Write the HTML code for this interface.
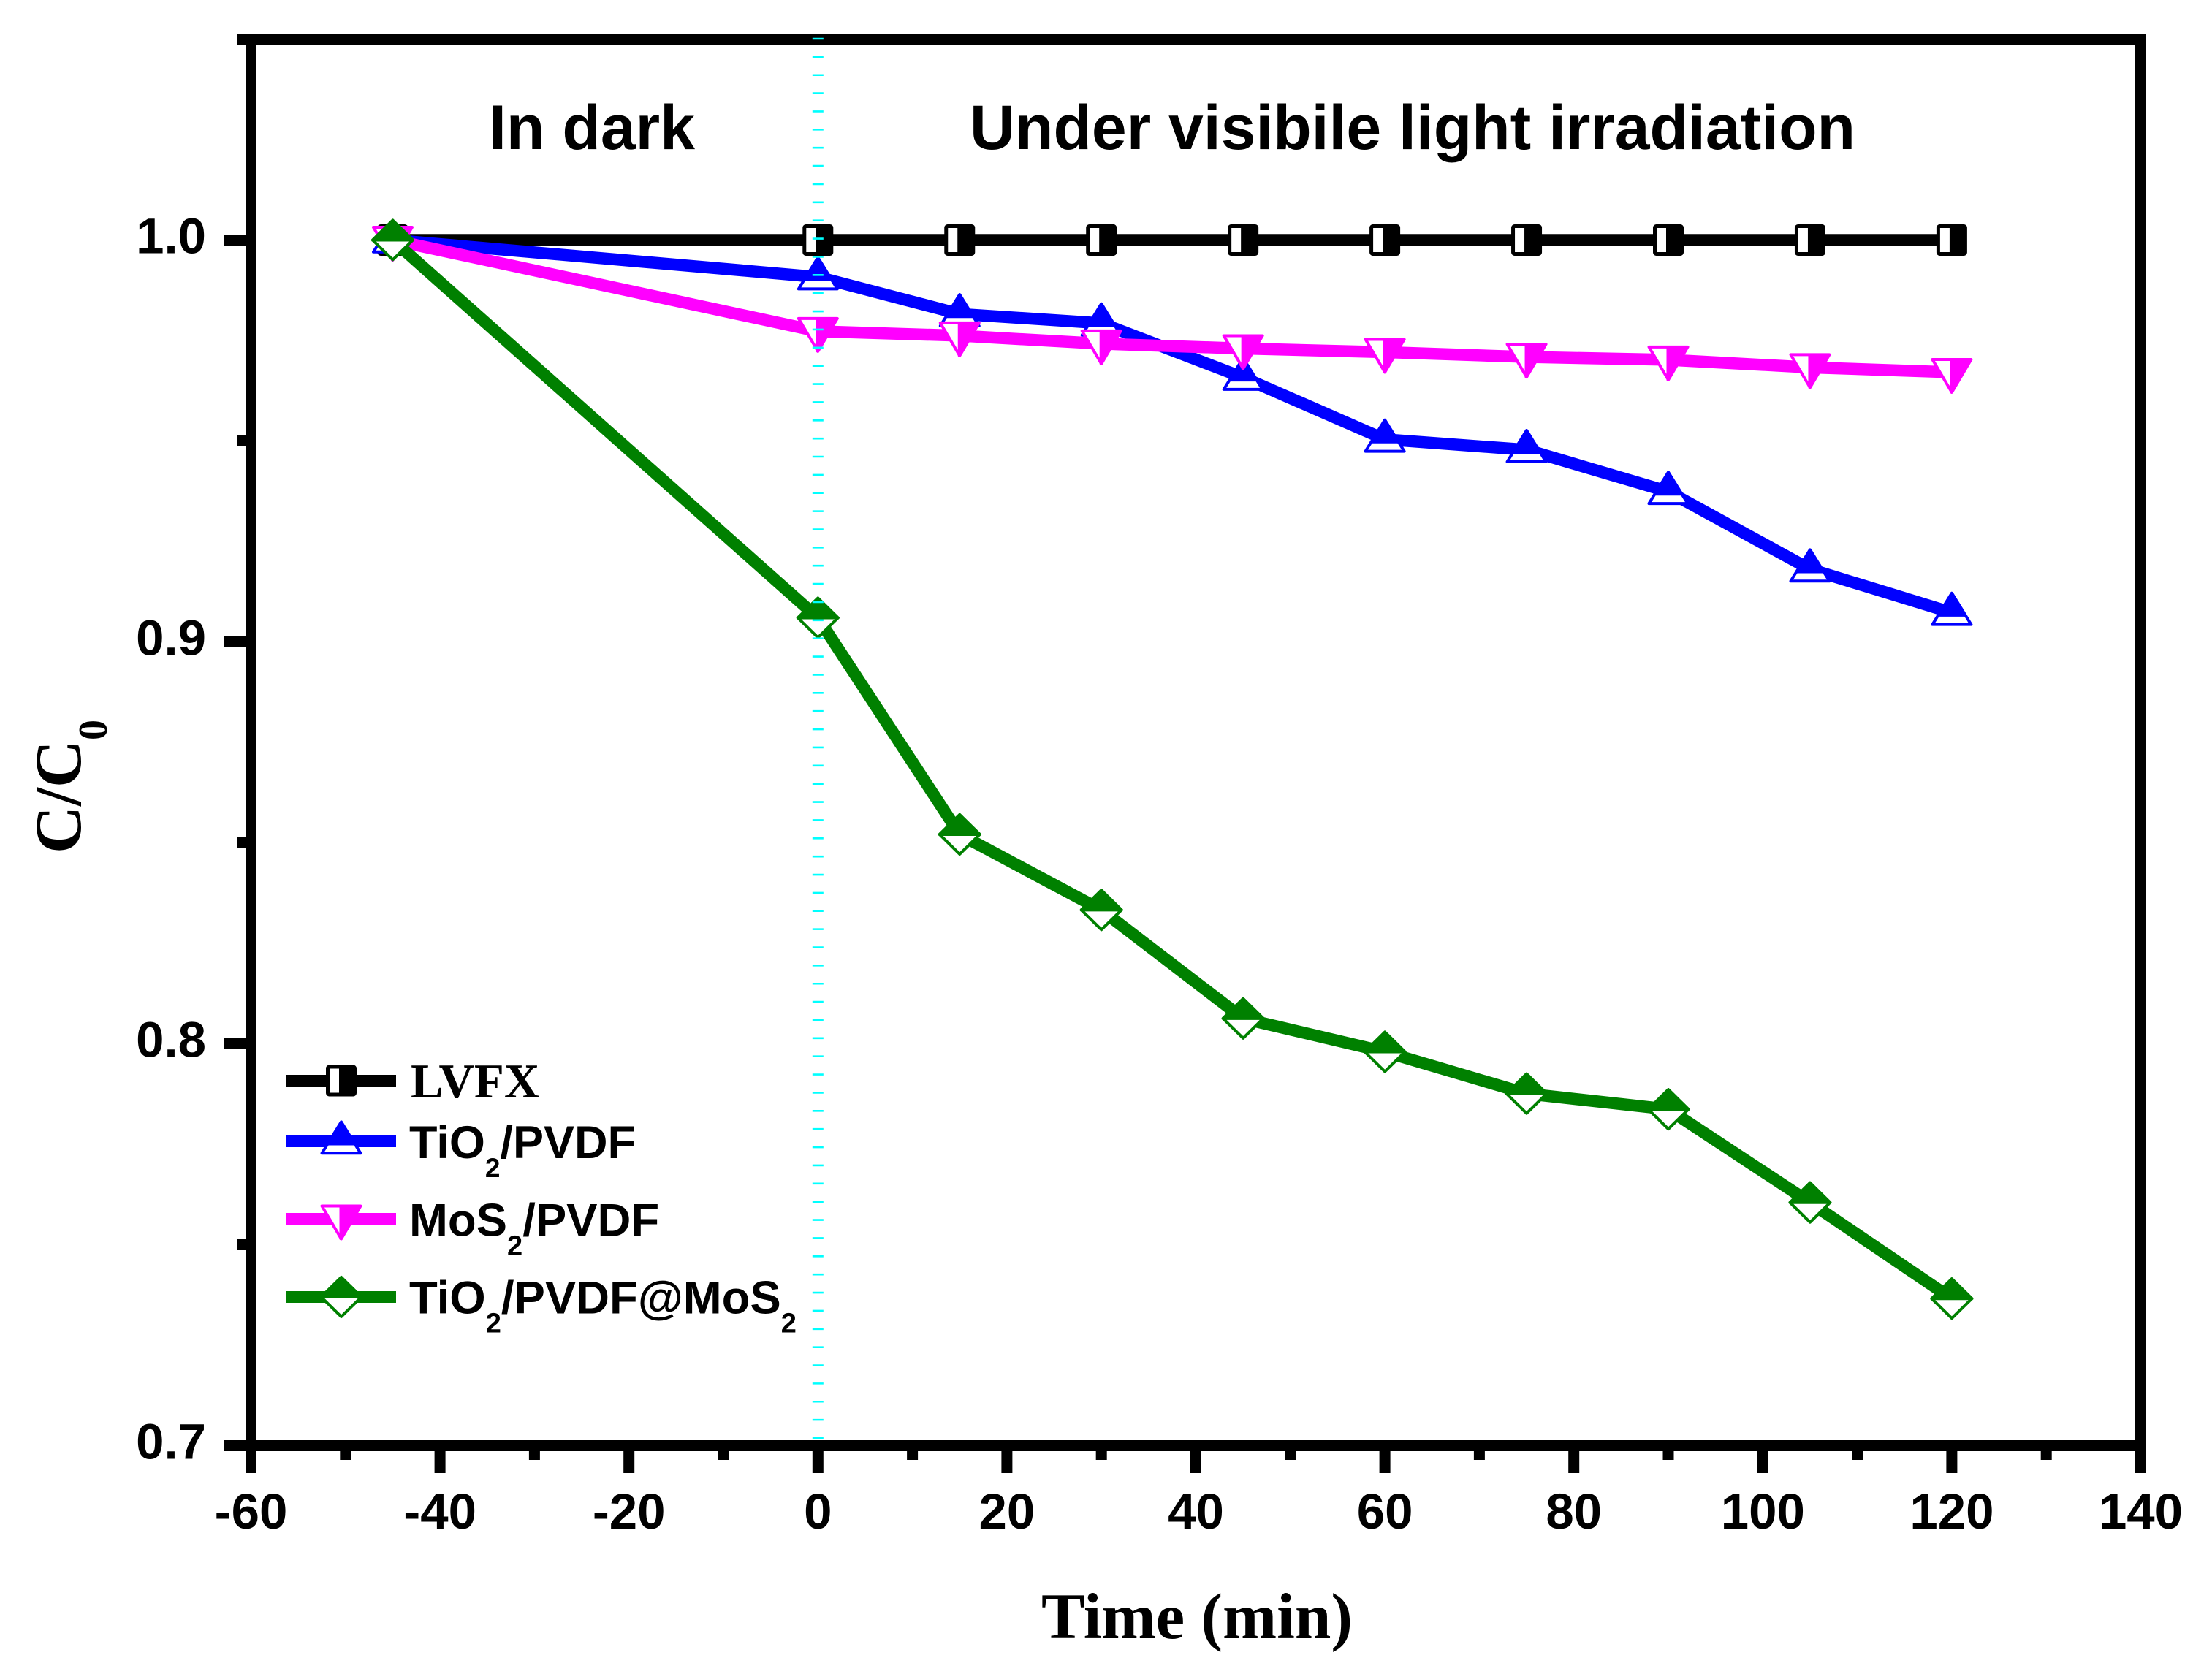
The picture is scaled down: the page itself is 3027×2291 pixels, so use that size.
<!DOCTYPE html>
<html lang="en">
<head>
<meta charset="utf-8">
<title>C/C0 versus time</title>
<style>
html,body{margin:0;padding:0;background:#fff;}
svg{display:block;}
text{fill:#000;}
.sans{font-family:"Liberation Sans",Arial,sans-serif;font-weight:bold;}
.serif{font-family:"Liberation Serif","Times New Roman",serif;font-weight:bold;}
</style>
</head>
<body>
<svg id="chart" xmlns="http://www.w3.org/2000/svg" width="3027" height="2291" viewBox="0 0 3027 2291">
  <rect x="0" y="0" width="3027" height="2291" fill="#fff"/>
  <g id="axes"></g>
  <g id="series"></g>
  <g id="divider"></g>
  <text class="sans" x="669" y="204" font-size="86">In dark</text>
  <text class="sans" x="1327" y="204" font-size="86" textLength="1212" lengthAdjust="spacingAndGlyphs">Under visibile light irradiation</text>
  <text class="serif" x="1425" y="2242" font-size="89">Time (min)</text>
  <text class="serif" transform="translate(110,1168) rotate(-90)" font-size="90">C/C<tspan font-size="56" dy="36">0</tspan></text>
  <g id="legend">
    <text class="serif" x="562" y="1502" font-size="67">LVFX</text>
    <text class="sans" x="560" y="1585" font-size="63">TiO<tspan font-size="37" dy="26">2</tspan><tspan dy="-26">/PVDF</tspan></text>
    <text class="sans" x="560" y="1691.5" font-size="63.5">MoS<tspan font-size="38" dy="26">2</tspan><tspan dy="-26">/PVDF</tspan></text>
    <text class="sans" x="560" y="1797.5" font-size="63.5">TiO<tspan font-size="38" dy="26">2</tspan><tspan dy="-26">/PVDF@MoS</tspan><tspan font-size="38" dy="26">2</tspan></text>
  </g>
</svg>
<script>
// ---- chart data ----
var times = [-45, 0, 15, 30, 45, 60, 75, 90, 105, 120];
var lvfxValues = [1, 1, 1, 1, 1, 1, 1, 1, 1, 1];
var tio2PvdfValues = [1, 0.9908, 0.9816, 0.9793, 0.9658, 0.9504, 0.9478, 0.9374, 0.9181, 0.9073];
var mos2PvdfValues = [1, 0.9773, 0.9762, 0.9742, 0.9730, 0.9721, 0.9709, 0.9702, 0.9683, 0.9671];
var compositeValues = [1, 0.9060, 0.8521, 0.8333, 0.8063, 0.7980, 0.7876, 0.7837, 0.7605, 0.7366];
var xMajorTicks = [-60, -40, -20, 0, 20, 40, 60, 80, 100, 120, 140];
var xMinorTicks = [-50, -30, -10, 10, 30, 50, 70, 90, 110, 130];
var xTickLabels = ['-60', '-40', '-20', '0', '20', '40', '60', '80', '100', '120', '140'];
var yMajorTicks = [0.7, 0.8, 0.9, 1.0];
var yMinorTicks = [0.75, 0.85, 0.95, 1.05];
var yTickLabels = ['0.7', '0.8', '0.9', '1.0'];
var dividerTime = [0];
var xDomain = [-60, 140];
var yDomain = [0.7, 1.05];

// ---- axis functions ----
var NS = 'http://www.w3.org/2000/svg';
function xScale(v) { return 343.5 + (v - xDomain[0]) * (2929.5 - 343.5) / (xDomain[1] - xDomain[0]); }
function yScale(v) { return 1978.5 + (v - yDomain[0]) * (53.5 - 1978.5) / (yDomain[1] - yDomain[0]); }
function make(parent, tag, attrs) {
  var el = document.createElementNS(NS, tag);
  for (var k in attrs) { el.setAttribute(k, attrs[k]); }
  parent.appendChild(el);
  return el;
}
function pts(cx, cy, list) {
  return list.map(function (p) { return (cx + p[0]) + ',' + (cy + p[1]); }).join(' ');
}

// ---- markers ----
function markerSquare(g, cx, cy, color) {
  var a = make(g, 'rect', { x: cx - 18.5, y: cy - 19, width: 37, height: 38, rx: 2, fill: '#fff', stroke: color, 'stroke-width': 5 });
  
  
  var b = make(g, 'rect', { x: cx - 3, y: cy - 19, width: 21.5, height: 38, fill: color });
  
  
}
function markerUp(g, cx, cy, color) {
  var a = make(g, 'polygon', { points: pts(cx, cy, [[0, -26.5], [26.5, 16.3], [-26.5, 16.3]]), fill: '#fff', stroke: color, 'stroke-width': 4, 'stroke-linejoin': 'round' });
  
  
  var b = make(g, 'polygon', { points: pts(cx, cy, [[0, -26.5], [18.5, 3.5], [-18.5, 3.5]]), fill: color, stroke: color, 'stroke-width': 4, 'stroke-linejoin': 'round' });
  
  
}
function markerDown(g, cx, cy, color) {
  var a = make(g, 'polygon', { points: pts(cx, cy, [[0, 27.5], [26.5, -17.5], [-26.5, -17.5]]), fill: '#fff', stroke: color, 'stroke-width': 4, 'stroke-linejoin': 'round' });
  
  
  var b = make(g, 'polygon', { points: pts(cx, cy, [[-1, 27.5], [26.5, -17.5], [-1, -17.5]]), fill: color, stroke: color, 'stroke-width': 3, 'stroke-linejoin': 'round' });
  
  
}
function markerDiamond(g, cx, cy, color) {
  var a = make(g, 'polygon', { points: pts(cx, cy, [[0, -27], [27.5, 0], [0, 27], [-27.5, 0]]), fill: '#fff', stroke: color, 'stroke-width': 4, 'stroke-linejoin': 'round' });
  
  
  var b = make(g, 'polygon', { points: pts(cx, cy, [[0, -27], [27.5, 0], [-27.5, 0]]), fill: color, stroke: color, 'stroke-width': 4, 'stroke-linejoin': 'round' });
  
  
}

// ---- axes ----
var axes = document.getElementById('axes');
var frame = make(axes, 'rect', { x: xScale(xDomain[0]), y: yScale(yDomain[1]), width: xScale(xDomain[1]) - xScale(xDomain[0]), height: yScale(yDomain[0]) - yScale(yDomain[1]), fill: 'none', stroke: '#000', 'stroke-width': 15 });



xMajorTicks.forEach(function (v, i) {
  var t = make(axes, 'line', { x1: xScale(v), x2: xScale(v), y1: 1978.5, y2: 2016, stroke: '#000', 'stroke-width': 15 });
  
  
  var l = make(axes, 'text', { x: xScale(v), y: 2092, 'text-anchor': 'middle', 'font-size': 69, 'class': 'sans' });
  
  
  l.textContent = xTickLabels[i];
});
xMinorTicks.forEach(function (v) {
  var t = make(axes, 'line', { x1: xScale(v), x2: xScale(v), y1: 1978.5, y2: 1998, stroke: '#000', 'stroke-width': 15 });
  
  
});
yMajorTicks.forEach(function (v, i) {
  var t = make(axes, 'line', { x1: 307, x2: 343.5, y1: yScale(v), y2: yScale(v), stroke: '#000', 'stroke-width': 15 });
  
  
  var l = make(axes, 'text', { x: 282, y: yScale(v) + 18, 'text-anchor': 'end', 'font-size': 69, 'class': 'sans' });
  
  
  l.textContent = yTickLabels[i];
});
yMinorTicks.forEach(function (v) {
  var t = make(axes, 'line', { x1: 325, x2: 343.5, y1: yScale(v), y2: yScale(v), stroke: '#000', 'stroke-width': 15 });
  
  
});

// ---- series ----
var seriesLayer = document.getElementById('series');
function drawSeries(name, values, color, marker) {
  var g = make(seriesLayer, 'g', {});
  
  
  var line = make(g, 'polyline', {
    points: times.map(function (t, i) { return xScale(t) + ',' + yScale(values[i]); }).join(' '),
    fill: 'none', stroke: color, 'stroke-width': 16.5, 'stroke-linejoin': 'miter'
  });
  
  
  times.forEach(function (t, i) {
    var m = make(g, 'g', {});
    
    
    marker(m, xScale(t), yScale(values[i]), color);
  });
}
drawSeries('series-lvfx', lvfxValues, '#000000', markerSquare);
drawSeries('series-tio2-pvdf', tio2PvdfValues, '#0000ff', markerUp);
drawSeries('series-mos2-pvdf', mos2PvdfValues, '#ff00ff', markerDown);
drawSeries('series-tio2-pvdf-mos2', compositeValues, '#008000', markerDiamond);

// ---- divider ----
var dividerLayer = document.getElementById('divider');
dividerTime.forEach(function (t) {
  var d = make(dividerLayer, 'line', { x1: xScale(t), x2: xScale(t), y1: 51.7, y2: 1978, stroke: '#00ffff', 'stroke-width': 15, 'stroke-dasharray': '2.6 22.27' });
  
  
});

// ---- legend keys ----
var legend = document.getElementById('legend');
function legendKey(name, y, color, marker) {
  var g = make(legend, 'g', {});
  
  
  var l = make(g, 'line', { x1: 392, x2: 542, y1: y, y2: y, stroke: color, 'stroke-width': 16 });
  
  
  marker(g, 467, y, color);
}
legendKey('legend-key-lvfx', 1479, '#000000', markerSquare);
legendKey('legend-key-tio2-pvdf', 1562, '#0000ff', markerUp);
legendKey('legend-key-mos2-pvdf', 1668, '#ff00ff', markerDown);
legendKey('legend-key-tio2-pvdf-mos2', 1775, '#008000', markerDiamond);
</script>
</body>
</html>
